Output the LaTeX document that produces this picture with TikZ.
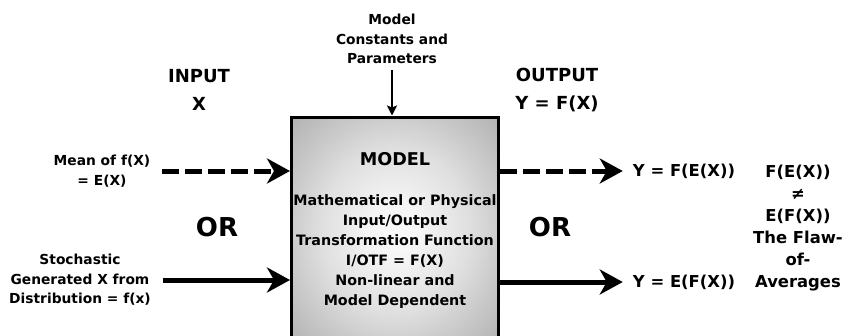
\documentclass[tikz,border=0pt]{standalone}
\usepackage{fontspec}
\setmainfont{DejaVu Sans}
\usetikzlibrary{arrows.meta,positioning}
\pgfdeclareradialshading{modelshade}{\pgfpoint{0bp}{0bp}}{color(0bp)=(gray!4); color(6bp)=(gray!8); color(18bp)=(gray!25); color(25bp)=(gray!40); color(35bp)=(gray!60); color(50bp)=(gray!60)}
\tikzset{
    model-box/.style = {draw=black, line width=3pt, rectangle, minimum width=207pt, minimum height=228pt, shade, shading=modelshade},
    head-text/.style = {font=\bfseries\fontsize{18}{28}\selectfont, align=center, inner sep=0pt},
    title-text/.style = {font=\bfseries\fontsize{17.6}{22}\selectfont, inner sep=0pt},
    body-text/.style = {font=\bfseries\fontsize{14.3}{20}\selectfont, align=center, inner sep=0pt},
    side-text/.style = {font=\bfseries\fontsize{13.8}{19.5}\selectfont, align=center, inner ysep=0pt, inner xsep=12pt},
    or-text/.style = {font=\bfseries\fontsize{26}{30}\selectfont, inner sep=0pt},
    out-text/.style = {font=\bfseries\fontsize{16.4}{22}\selectfont, inner ysep=0pt, inner xsep=10pt},
    flaw-text/.style = {font=\bfseries\fontsize{16.4}{22}\selectfont, align=center, inner sep=0pt},
    dash-arrow/.style = {line width=5pt, dash pattern=on 17pt off 6pt, -{Stealth[length=23pt, width=25pt, inset=7pt]}},
    solid-arrow/.style = {line width=5pt, -{Stealth[length=23pt, width=25pt, inset=7pt]}},
    thin-arrow/.style = {line width=2pt, -{Stealth[length=10pt, width=10pt, inset=2pt]}},
}
\begin{document}
\begin{tikzpicture}[x=1pt, y=-1pt]
\useasboundingbox (0,0) rectangle (845,335);
% the model block
\node[model-box] (model) at (395,231) {};
\node[title-text] (title) at (395,159) {MODEL};
\node[body-text] (body) at (395,252) {Mathematical or Physical\\Input/Output\\Transformation Function\\I/OTF = F(X)\\Non-linear and\\Model Dependent};
\node[side-text] (params) at (392,39) {Model\\Constants and\\Parameters};
\draw[thin-arrow, shorten <=6pt] (params.south) -- (params.south |- model.north);
% inputs
\node[head-text] (input) at (199,90) {INPUT\\X};
\node[side-text] (mean) at (102,171) {Mean of f(X)\\= E(X)};
\draw[dash-arrow] (mean.east) -- (mean.east -| model.west);
\node[or-text] (or-left) at (217,227) {OR};
\node[side-text] (stoch) at (80,280) {Stochastic\\Generated X from\\Distribution = f(x)};
\draw[solid-arrow] (stoch.east) -- (stoch.east -| model.west);
% outputs
\node[head-text] (output) at (557,90) {OUTPUT\\Y = F(X)};
\node[out-text] (y-fe) at (684,171) {Y = F(E(X))};
\draw[dash-arrow] (model.east |- y-fe) -- (y-fe.west);
\node[or-text] (or-right) at (550,227) {OR};
\node[out-text] (y-ef) at (684,282) {Y = E(F(X))};
\draw[solid-arrow] (model.east |- y-ef) -- (y-ef.west);
\node[flaw-text] (flaw) at (798,228) {F(E(X))\\≠\\E(F(X))\\The Flaw-\\of-\\Averages};
\end{tikzpicture}
\end{document}
